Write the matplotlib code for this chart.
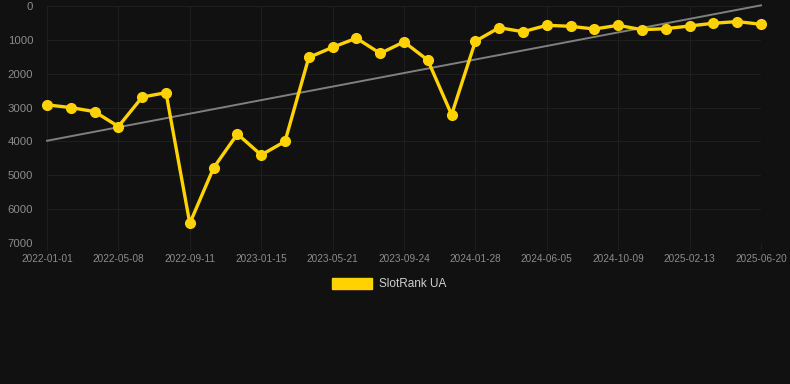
import matplotlib
matplotlib.use("Agg")
import matplotlib.pyplot as plt
from matplotlib.patches import Patch

# Data
tick_labels = ["2022-01-01", "2022-05-08", "2022-09-11", "2023-01-15", "2023-05-21",
               "2023-09-24", "2024-01-28", "2024-06-05", "2024-10-09", "2025-02-13",
               "2025-06-20"]
rank_values = [2920, 3000, 3120, 3560, 2690, 2560, 6420, 4780, 3780, 4400, 4000,
               1520, 1220, 950, 1400, 1060, 1600, 3210, 1040, 640, 760, 570, 600,
               680, 570, 700, 670, 590, 510, 460, 540]
trend_values = [3980, -20]
series_name = "SlotRank UA"

BG = "#111111"
GOLD = "#FFD200"
GRID = "#1e1e1e"
TXT = "#8c8c8c"

plt.rcParams['font.family'] = ['Liberation Sans', 'DejaVu Sans']

fig = plt.figure(figsize=(7.9, 3.84), dpi=100, facecolor=BG)
ax = fig.add_axes([47/790, 1-243/384, 714/790, 237/384], facecolor=BG)

x = list(range(len(rank_values)))
tick_pos = x[::3]

ax.plot([x[0], x[-1]], trend_values, color="#808080", lw=1.4, zorder=2, clip_on=False)
ax.plot(x, rank_values, color=GOLD, lw=2.4, marker="o", markersize=7,
        markerfacecolor=GOLD, markeredgecolor=GOLD, zorder=3, clip_on=False)

ax.set_xlim(0, len(rank_values)-1)
ax.set_ylim(7000, 0)
ax.set_yticks(range(0, 7001, 1000))
ax.set_yticklabels([str(v) for v in range(0, 7001, 1000)])
ax.set_xticks(tick_pos)
ax.set_xticklabels(tick_labels)

ax.grid(True, color=GRID, lw=0.8)
ax.set_axisbelow(True)
for s in ax.spines.values():
    s.set_visible(False)
ax.tick_params(axis='y', length=0, pad=10, labelsize=8.2, labelcolor=TXT)
ax.tick_params(axis='x', length=5, width=0.8, color=GRID, pad=3, labelsize=7.2, labelcolor=TXT)

handle = Patch(facecolor=GOLD, edgecolor=GOLD)
fig.legend([handle], [series_name], loc="center", bbox_to_anchor=(389.5/790, 1-284/384),
           frameon=False, fontsize=8.5, labelcolor="#d0d0d0",
           handlelength=3.4, handleheight=1.1, handletextpad=0.6)

fig.savefig("out.png", dpi=100, facecolor=BG)
